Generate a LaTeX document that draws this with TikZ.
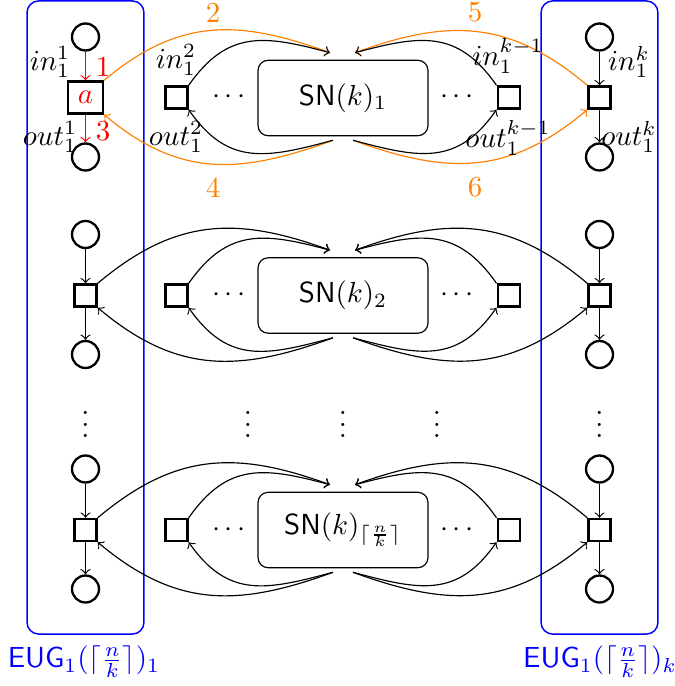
\documentclass[tikz,border=0pt]{standalone}
\usetikzlibrary{calc}
\begin{document}
\begin{tikzpicture}[x=0.3448pt,y=0.3448pt,
  place/.style={circle,draw,thick,minimum size=9.3pt,inner sep=0pt},
  trans/.style={rectangle,draw,thick,minimum size=7.6pt,inner sep=0pt},
  snbox/.style={rectangle,draw,rounded corners=3.5pt,minimum width=58.6pt,minimum height=26pt},
  eugbox/.style={draw=blue,rounded corners=4pt,line width=0.5pt,minimum width=40.3pt,minimum height=218.3pt,inner sep=0pt},
  arr/.style={->},
  oarr/.style={->,orange},
  rarr/.style={->,red}
]
\useasboundingbox (0,0) rectangle (675,-686);

% enclosing boxes
\node[eugbox] (eug1) at (85.5,-317.5) {};
\node[eugbox] (eugk) at (599.5,-317.5) {};
\node[text=blue] (eug1lbl) at (84,-662) {\textsf{EUG}$_1(\lceil\frac{n}{k}\rceil)_1$};
\node[text=blue] (eugklbl) at (600,-662) {\textsf{EUG}$_1(\lceil\frac{n}{k}\rceil)_k$};

% ---------- row 1 ----------
\node[place] (p1t) at (85.5,-37) {};
\node[trans,inner sep=.3333em,text=red] (a) at (85.5,-97.5) {$a$};
\node[place] (p1b) at (85.5,-157) {};
\node[trans] (t12) at (176.5,-97.5) {};
\node (d1l) at (229,-97) {$\cdots$};
\node[snbox] (sn1) at (343,-98) {\textsf{SN}$(k)_1$};
\node (d1r) at (457,-97) {$\cdots$};
\node[trans] (t1k1) at (508.7,-97.5) {};
\node[place] (p1kt) at (599.5,-37) {};
\node[trans] (t1k) at (599.5,-97.5) {};
\node[place] (p1kb) at (599.5,-157) {};

\coordinate (sn1tl) at ($(sn1.north)+(-13,7)$);
\coordinate (sn1tr) at ($(sn1.north)+(12,7)$);
\coordinate (sn1bl) at ($(sn1.south)+(-10,-4)$);
\coordinate (sn1br) at ($(sn1.south)+(10,-4)$);

\draw[rarr] (p1t) -- (a);
\draw[rarr] (a) -- (p1b);
\draw[oarr] (a.north east) to[out=40,in=160,looseness=1.1] (sn1tl);
\draw[arr] (t12.north east) to[out=55,in=165,looseness=1.2] (sn1tl);
\draw[oarr] (sn1bl) to[out=200,in=-40,looseness=1.1] (a.south east);
\draw[arr] (sn1bl) to[out=195,in=-55,looseness=1.2] (t12.south east);
\draw[oarr] (t1k.north west) to[out=140,in=20,looseness=1.1] (sn1tr);
\draw[arr] (t1k1.north west) to[out=125,in=15,looseness=1.2] (sn1tr);
\draw[oarr] (sn1br) to[out=-20,in=220,looseness=1.1] (t1k.south west);
\draw[arr] (sn1br) to[out=-15,in=235,looseness=1.2] (t1k1.south west);
\draw[arr] (p1kt) -- (t1k);
\draw[arr] (t1k) -- (p1kb);

% labels row 1
\node (in11) at (50,-62) {$in_1^1$};
\node (out11) at (50,-137) {$out_1^1$};
\node[text=red] (n1) at (103,-67) {1};
\node[text=red] (n3) at (103,-131) {3};
\node (in12) at (176,-60) {$in_1^2$};
\node (out12) at (176,-137) {$out_1^2$};
\node (in1k1) at (508,-56) {$in_1^{k-1}$};
\node (out1k1) at (508,-138) {$out_1^{k-1}$};
\node (in1k) at (629,-62) {$in_1^k$};
\node (out1k) at (629,-137) {$out_1^k$};
\node[text=orange] (n2) at (213,-13) {2};
\node[text=orange] (n4) at (213,-188) {4};
\node[text=orange] (n5) at (475,-12) {5};
\node[text=orange] (n6) at (475,-187) {6};

% ---------- rows 2 and 3 ----------
\foreach \rw/\yy/\ss in {2/295.5/{2}, 3/530/{\lceil\frac{n}{k}\rceil}} {
  \node[place] (pt-\rw) at (85.5,-\yy+61) {};
  \node[trans] (t1-\rw) at (85.5,-\yy) {};
  \node[place] (pb-\rw) at (85.5,-\yy-59) {};
  \node[trans] (t2-\rw) at (176.5,-\yy) {};
  \node (dl-\rw) at (229,-\yy) {$\cdots$};
  \node[snbox] (sn-\rw) at (343,-\yy) {\textsf{SN}$(k)_{\ss}$};
  \node (dr-\rw) at (457,-\yy) {$\cdots$};
  \node[trans] (tk1-\rw) at (508.7,-\yy) {};
  \node[place] (pkt-\rw) at (599.5,-\yy+61) {};
  \node[trans] (tk-\rw) at (599.5,-\yy) {};
  \node[place] (pkb-\rw) at (599.5,-\yy-59) {};
  \coordinate (tl-\rw) at ($(sn-\rw.north)+(-13,7)$);
  \coordinate (tr-\rw) at ($(sn-\rw.north)+(12,7)$);
  \coordinate (bl-\rw) at ($(sn-\rw.south)+(-10,-4)$);
  \coordinate (br-\rw) at ($(sn-\rw.south)+(10,-4)$);
  \draw[arr] (pt-\rw) -- (t1-\rw);
  \draw[arr] (t1-\rw) -- (pb-\rw);
  \draw[arr] (pkt-\rw) -- (tk-\rw);
  \draw[arr] (tk-\rw) -- (pkb-\rw);
  \draw[arr] (t1-\rw.north east) to[out=40,in=160,looseness=1.1] (tl-\rw);
  \draw[arr] (t2-\rw.north east) to[out=55,in=165,looseness=1.2] (tl-\rw);
  \draw[arr] (bl-\rw) to[out=200,in=-40,looseness=1.1] (t1-\rw.south east);
  \draw[arr] (bl-\rw) to[out=195,in=-55,looseness=1.2] (t2-\rw.south east);
  \draw[arr] (tk-\rw.north west) to[out=140,in=20,looseness=1.1] (tr-\rw);
  \draw[arr] (tk1-\rw.north west) to[out=125,in=15,looseness=1.2] (tr-\rw);
  \draw[arr] (br-\rw) to[out=-20,in=220,looseness=1.1] (tk-\rw.south west);
  \draw[arr] (br-\rw) to[out=-15,in=235,looseness=1.2] (tk1-\rw.south west);
}

% vertical dots
\foreach \xx [count=\i] in {85.5,248,343,437,599.5}
  \node (vd\i) at (\xx,-416) {$\vdots$};
\end{tikzpicture}
\end{document}
